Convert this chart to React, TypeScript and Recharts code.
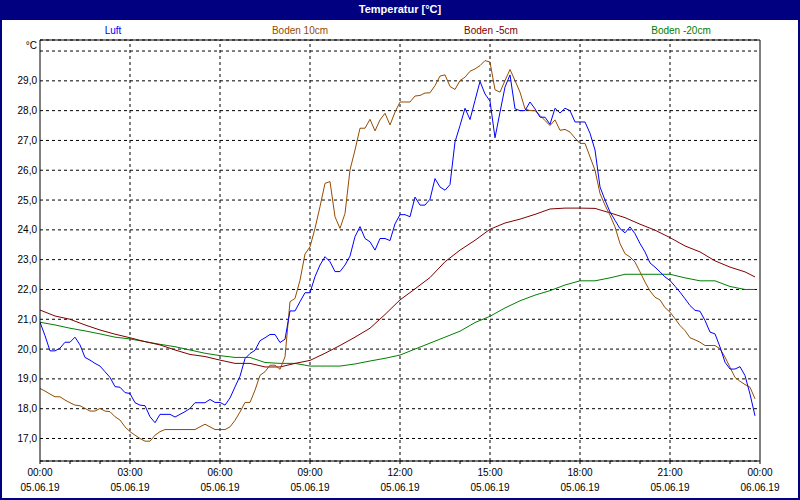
import React from 'react';
import { LineChart, Line, XAxis, YAxis, CartesianGrid, ReferenceLine } from 'recharts';

// ---- data ----
const STEP_MINUTES = 10;

const LUFT = [
  20.9, 20.45, 19.94, 19.94, 20.03, 20.23,
  20.23, 20.4, 20.14, 19.72, 19.63, 19.52,
  19.43, 19.24, 19.05, 18.74, 18.72, 18.54,
  18.51, 18.2, 18.12, 18.1, 17.73, 17.53,
  17.81, 17.81, 17.81, 17.72, 17.81, 17.9,
  18.01, 18.2, 18.2, 18.2, 18.31, 18.21,
  18.21, 18.12, 18.36, 18.73, 19.09, 19.68,
  19.85, 19.96, 20.28, 20.38, 20.49, 20.49,
  20.22, 20.33, 21.28, 21.28, 21.59, 21.89,
  21.89, 22.43, 22.82, 23.1, 22.93, 22.6,
  22.6, 22.82, 23.12, 23.77, 24.11, 23.71,
  23.6, 23.32, 23.71, 23.71, 23.64, 24.2,
  24.51, 24.51, 24.44, 25.1, 24.83, 24.83,
  25.03, 25.72, 25.44, 25.33, 25.52, 26.95,
  27.5, 28.08, 27.7, 28.34, 28.98, 28.56,
  28.32, 27.09, 27.95, 28.79, 29.2, 28.06,
  28.0, 28.0, 28.29, 28.06, 27.78, 27.78,
  27.54, 28.08, 27.92, 28.08, 28.0, 27.62,
  27.62, 27.62, 27.24, 26.68, 25.44, 25.0,
  24.6, 24.32, 24.04, 23.9, 24.1, 23.87,
  23.54, 23.26, 22.89, 22.75, 22.59, 22.42,
  22.3, 22.11, 21.91, 21.69, 21.46, 21.3,
  21.27, 20.96, 20.57, 20.51, 20.07, 19.56,
  19.33, 19.33, 19.41, 19.11, 18.49, 17.76,
];

const BODEN_10 = [
  18.68, 18.59, 18.49, 18.4, 18.4, 18.29,
  18.2, 18.12, 18.1, 18.01, 17.92, 17.92,
  18.01, 17.92, 17.9, 17.73, 17.62, 17.39,
  17.23, 17.11, 17.0, 16.91, 16.91, 17.11,
  17.23, 17.3, 17.3, 17.3, 17.3, 17.3,
  17.3, 17.3, 17.39, 17.48, 17.39, 17.3,
  17.3, 17.3, 17.39, 17.61, 17.89, 18.21,
  18.21, 18.62, 19.12, 19.24, 19.46, 19.46,
  19.32, 19.74, 21.59, 21.7, 22.31, 23.19,
  23.43, 24.05, 24.78, 25.56, 25.62, 24.44,
  24.05, 24.55, 26.01, 26.68, 27.41, 27.41,
  27.71, 27.32, 27.69, 27.91, 27.52, 27.95,
  28.29, 28.29, 28.29, 28.49, 28.51, 28.59,
  28.6, 28.84, 29.16, 29.2, 28.81, 28.71,
  29.01, 29.12, 29.32, 29.4, 29.51, 29.68,
  29.63, 28.7, 28.62, 29.01, 29.38, 29.01,
  28.62, 28.06, 28.0, 28.0, 27.84, 27.67,
  27.5, 27.69, 27.34, 27.37, 27.28, 27.08,
  26.9, 26.9, 26.45, 26.0, 25.22, 24.83,
  24.49, 24.1, 23.54, 23.2, 23.09, 22.92,
  22.59, 22.25, 21.95, 21.74, 21.65, 21.39,
  21.24, 21.02, 20.79, 20.62, 20.38, 20.31,
  20.23, 20.12, 20.12, 20.12, 20.01, 19.73,
  19.39, 19.05, 18.92, 18.81, 18.72, 18.33,
];

const SOIL_TIMES = [
  '00:00', '00:30', '01:00', '01:30', '02:00', '02:30', '03:00', '03:30',
  '04:00', '04:30', '05:00', '05:30', '06:00', '06:30', '07:00', '07:30',
  '08:00', '08:30', '09:00', '09:30', '10:00', '10:30', '11:00', '11:30',
  '12:00', '12:30', '13:00', '13:30', '14:00', '14:30', '15:00', '15:30',
  '16:00', '16:30', '17:00', '17:30', '18:00', '18:30', '19:00', '19:30',
  '20:00', '20:30', '21:00', '21:30', '22:00', '22:30', '23:00', '23:30', '23:50',
];

const BODEN_M5 = [
  21.31, 21.11, 21.0, 20.81, 20.64, 20.5, 20.38, 20.25,
  20.14, 19.97, 19.82, 19.75, 19.63, 19.52, 19.52, 19.4,
  19.4, 19.52, 19.62, 19.86, 20.12, 20.4, 20.7, 21.16,
  21.65, 22.02, 22.4, 22.93, 23.32, 23.65, 24.02, 24.23,
  24.36, 24.52, 24.7, 24.73, 24.73, 24.72, 24.57, 24.41,
  24.19, 23.99, 23.74, 23.46, 23.26, 22.96, 22.75, 22.59, 22.42,
];

const BODEN_M20 = [
  20.9, 20.81, 20.7, 20.61, 20.51, 20.4, 20.34, 20.25,
  20.16, 20.08, 19.97, 19.86, 19.78, 19.72, 19.72, 19.55,
  19.52, 19.52, 19.43, 19.43, 19.43, 19.5, 19.6, 19.69,
  19.8, 20.0, 20.2, 20.4, 20.6, 20.89, 21.1, 21.38,
  21.62, 21.81, 21.96, 22.15, 22.29, 22.29, 22.39, 22.51,
  22.51, 22.51, 22.51, 22.39, 22.29, 22.29, 22.1, 22.0, 22.0,
];

const HOUR_TICKS = [
  0, 60, 120, 180, 240, 300, 360, 420, 480, 540, 600, 660, 720,
  780, 840, 900, 960, 1020, 1080, 1140, 1200, 1260, 1320, 1380, 1440,
];
const MAJOR_TICKS = [0, 180, 360, 540, 720, 900, 1080, 1260, 1440];
const TICK_TIMES = ['00:00', '03:00', '06:00', '09:00', '12:00', '15:00', '18:00', '21:00', '00:00'];
const TICK_DATES = ['05.06.19', '05.06.19', '05.06.19', '05.06.19', '05.06.19', '05.06.19', '05.06.19', '05.06.19', '06.06.19'];

const Y_TICKS = [17, 18, 19, 20, 21, 22, 23, 24, 25, 26, 27, 28, 29, 30];
const Y_MIN = 16.245;
const Y_MAX = 30.37;
const X_MAX = 1440;

const TITLE = 'Temperatur [°C]';
const UNIT = '°C';
const SERIES_NAMES = ['Luft', 'Boden 10cm', 'Boden -5cm', 'Boden -20cm'];
const SERIES_COLORS = ['#0000FF', '#964B00', '#800000', '#008000'];
const LEGEND_CENTERS = [113, 300, 491, 681];

// ---- table for the library ----
const toMinutes = (s: string) => {
  const [h, m] = s.split(':').map(Number);
  return h * 60 + m;
};

const rows: any[] = LUFT.map((v, i) => ({ t: i * STEP_MINUTES, luft: v, b10: BODEN_10[i] }));
SOIL_TIMES.forEach((s, i) => {
  const idx = toMinutes(s) / STEP_MINUTES;
  if (rows[idx]) {
    rows[idx].b5 = BODEN_M5[i];
    rows[idx].b20 = BODEN_M20[i];
  }
});

const FONT = '"Liberation Sans", Arial, sans-serif';

const XTick = (props: any) => {
  const { x, y, payload } = props;
  const k = MAJOR_TICKS.indexOf(payload.value);
  if (k < 0) return <g />;
  return (
    <g>
      <text x={x} y={y} dy={10} textAnchor="middle" fontSize={10} fontFamily={FONT} fill="#000">
        {TICK_TIMES[k]}
      </text>
      <text x={x} y={y} dy={25} textAnchor="middle" fontSize={10} fontFamily={FONT} fill="#000">
        {TICK_DATES[k]}
      </text>
    </g>
  );
};

const YTick = (props: any) => {
  const { x, y, payload } = props;
  const v = payload.value as number;
  const label = v === 30 ? UNIT : v.toFixed(1).replace('.', ',');
  return (
    <text x={x} y={v === 30 ? y - 6 : y} dy="0.355em" textAnchor="end" fontSize={10} fontFamily={FONT} fill="#000">
      {label}
    </text>
  );
};

export default function App() {
  return (
    <div style={{ position: 'absolute', left: 0, top: 0, width: 800, height: 500, background: '#fff', overflow: 'hidden' }}>
      <LineChart width={800} height={500} data={rows} margin={{ top: 40, right: 40, bottom: 3, left: 0 }}>
        <CartesianGrid horizontal vertical={false} stroke="#000" strokeDasharray="3 3" />
        <XAxis
          type="number"
          dataKey="t"
          domain={[0, X_MAX]}
          ticks={HOUR_TICKS}
          interval={0}
          allowDataOverflow
          height={36}
          tickSize={3}
          tickMargin={2}
          stroke="#000"
          tickLine={{ stroke: '#000' }}
          axisLine={{ stroke: '#000' }}
          tick={<XTick />}
        />
        <YAxis
          type="number"
          domain={[Y_MIN, Y_MAX]}
          ticks={Y_TICKS}
          interval={0}
          allowDataOverflow
          width={40}
          tickSize={0}
          tickMargin={3}
          tickLine={false}
          axisLine={{ stroke: '#000' }}
          tick={<YTick />}
        />
        {MAJOR_TICKS.slice(1, -1).map((m) => (
          <ReferenceLine key={m} x={m} stroke="#000" strokeDasharray="3 3" />
        ))}
        <ReferenceLine x={X_MAX} stroke="#000" />
        <ReferenceLine y={Y_MAX} stroke="#000" />
        <Line type="linear" dataKey="b20" stroke={SERIES_COLORS[3]} strokeWidth={1} dot={false} connectNulls isAnimationActive={false} />
        <Line type="linear" dataKey="b5" stroke={SERIES_COLORS[2]} strokeWidth={1} dot={false} connectNulls isAnimationActive={false} />
        <Line type="linear" dataKey="b10" stroke={SERIES_COLORS[1]} strokeWidth={1} dot={false} isAnimationActive={false} />
        <Line type="linear" dataKey="luft" stroke={SERIES_COLORS[0]} strokeWidth={1} dot={false} isAnimationActive={false} />
      </LineChart>

      <div
        style={{
          position: 'absolute', left: 0, top: 0, width: 800, height: 20, background: '#000080',
          color: '#fff', fontFamily: FONT, fontWeight: 'bold', fontSize: 11, lineHeight: '19px', textAlign: 'center',
        }}
      >
        {TITLE}
      </div>
      {SERIES_NAMES.map((n, i) => (
        <div
          key={n}
          style={{
            position: 'absolute', left: LEGEND_CENTERS[i] - 60, top: 24, width: 120, height: 14,
            lineHeight: '14px', textAlign: 'center', fontFamily: FONT, fontSize: 10, color: SERIES_COLORS[i],
          }}
        >
          {n}
        </div>
      ))}
      <div
        style={{
          position: 'absolute', left: 0, top: 0, width: 800, height: 500, boxSizing: 'border-box',
          borderLeft: '2px solid #000080', borderRight: '2px solid #000080', borderBottom: '2px solid #000080',
          pointerEvents: 'none',
        }}
      />
    </div>
  );
}
